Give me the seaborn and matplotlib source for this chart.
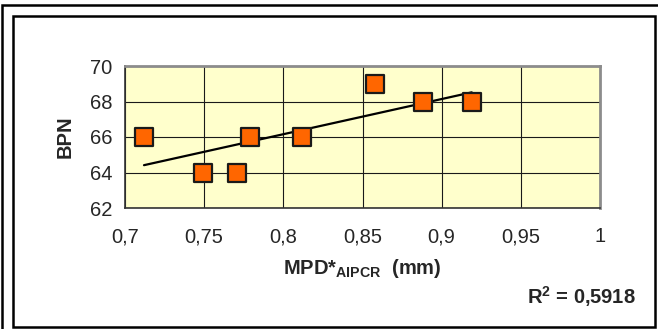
import numpy as np
import pandas as pd
import seaborn as sns
import matplotlib.pyplot as plt
from matplotlib.patches import Rectangle

# data
mpd = [0.712, 0.749, 0.771, 0.779, 0.812, 0.858, 0.888, 0.919]
bpn = [66, 64, 64, 66, 66, 69, 68, 68]
x_ticks = [0.7, 0.75, 0.8, 0.85, 0.9, 0.95, 1.0]
x_tick_labels = ["0,7", "0,75", "0,8", "0,85", "0,9", "0,95", "1"]
y_ticks = [62, 64, 66, 68, 70]
y_tick_labels = ["62", "64", "66", "68", "70"]
r2_label = "0,5918"

df = pd.DataFrame({"MPD": mpd, "BPN": bpn})

sns.set_style("white")
plt.rcParams['font.family'] = ['Liberation Sans', 'DejaVu Sans']
plt.rcParams['mathtext.fontset'] = 'custom'
plt.rcParams['mathtext.rm'] = 'Liberation Sans'
plt.rcParams['mathtext.bf'] = 'Liberation Sans:bold'

fig = plt.figure(figsize=(6.58, 3.29), dpi=100)
W, H = 658, 329

# outer and inner frames
fig.patches.append(Rectangle((2 / W, 1 - 340 / H), 680 / W, 335 / H, transform=fig.transFigure,
                             fill=False, edgecolor="black", linewidth=1.8))
fig.patches.append(Rectangle((13 / W, 1 - 327 / H), 642 / W, 311 / H, transform=fig.transFigure,
                             fill=False, edgecolor="black", linewidth=1.8))

ax = fig.add_axes([125 / W, 1 - 208 / H, 475 / W, 142 / H])
ax.set_facecolor("#FFFFCC")

sns.regplot(data=df, x="MPD", y="BPN", scatter=False, ci=None, truncate=True,
            line_kws={"color": "black", "linewidth": 1.6}, ax=ax)
sns.scatterplot(data=df, x="MPD", y="BPN", marker="s", s=170, color="#FF6600",
                edgecolor="#1a1a1a", linewidth=1.6, zorder=4, ax=ax)

ax.set_xlim(0.7, 1.0)
ax.set_ylim(62, 70)
ax.set_xticks(x_ticks)
ax.set_xticklabels(x_tick_labels)
ax.set_yticks(y_ticks)
ax.set_yticklabels(y_tick_labels)
ax.grid(True, color="#1a1a1a", linewidth=0.8)
ax.set_axisbelow(True)
ax.tick_params(axis="both", direction="out", length=5, width=1, color="black",
               labelsize=14.5)
ax.tick_params(axis="x", pad=9)
ax.tick_params(axis="y", pad=4)

for side in ["top", "right"]:
    ax.spines[side].set_color("#8c8c8c")
    ax.spines[side].set_linewidth(2)
for side in ["left", "bottom"]:
    ax.spines[side].set_color("#333333")
    ax.spines[side].set_linewidth(1.2)

ax.set_xlabel("")
ax.set_ylabel("BPN", fontsize=14.5, fontweight="bold", labelpad=11)

fig.text(362 / W, 1 - 268 / H, r"MPD*$_{\mathbf{AIPCR}}$  (mm)", fontsize=14.5,
         fontweight="bold", ha="center", va="center")
fig.text(636 / W, 1 - 297 / H, r"R$\mathbf{^2}$ = " + r2_label, fontsize=14.5,
         fontweight="bold", ha="right", va="center")

fig.savefig("out.png", dpi=100)
